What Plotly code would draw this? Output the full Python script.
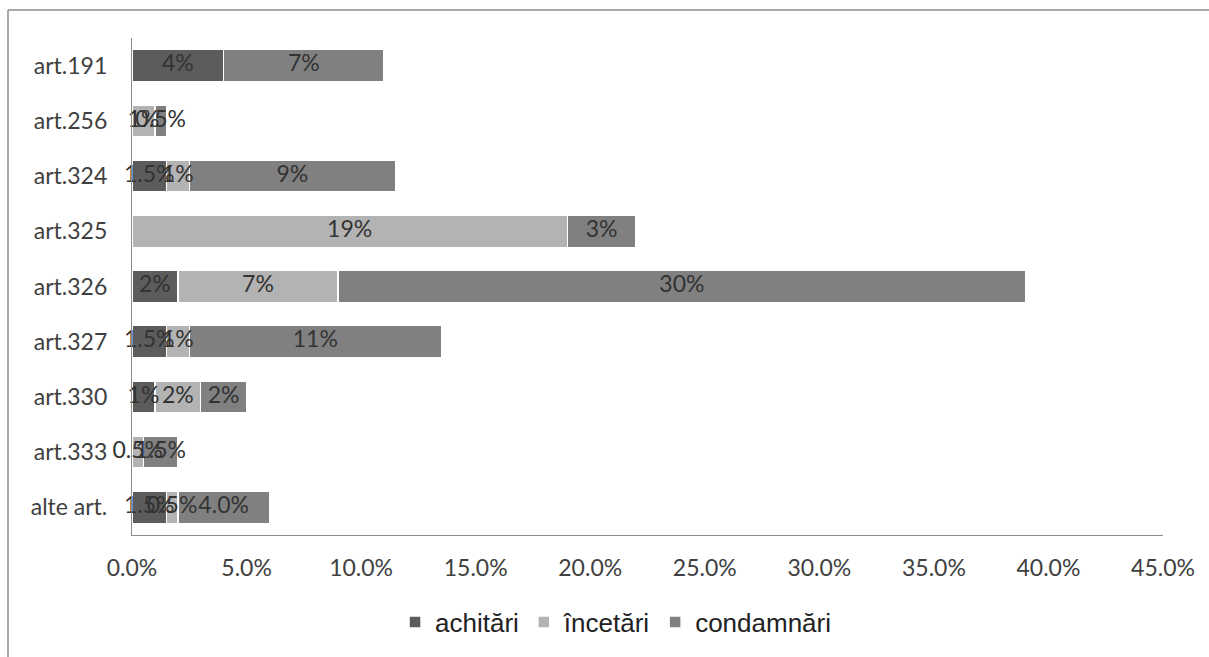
import plotly.graph_objects as go

categories = ["art.191", "art.256", "art.324", "art.325", "art.326", "art.327", "art.330", "art.333", "alte art."]
series_names = ["achitări", "încetări", "condamnări"]

achitari = [4, 0, 1.5, 0, 2, 1.5, 1, 0, 1.5]
incetari = [0, 1, 1, 19, 7, 1, 2, 0.5, 0.5]
condamnari = [7, 0.5, 9, 3, 30, 11, 2, 1.5, 4.0]

achitari_text = ["4%", "", "1.5%", "", "2%", "1.5%", "1%", "", "1.5%"]
incetari_text = ["", "1%", "1%", "19%", "7%", "1%", "2%", "0.5%", "0.5%"]
condamnari_text = ["7%", "0.5%", "9%", "3%", "30%", "11%", "2%", "1.5%", "4.0%"]

tick_vals = [0, 5, 10, 15, 20, 25, 30, 35, 40, 45]
tick_text = ["0.0%", "5.0%", "10.0%", "15.0%", "20.0%", "25.0%", "30.0%", "35.0%", "40.0%", "45.0%"]

colors = ["#5c5c5c", "#b3b3b3", "#808080"]
FONT = "Lato, Open Sans, sans-serif"

series = [achitari, incetari, condamnari]
texts = [achitari_text, incetari_text, condamnari_text]

fig = go.Figure()
for name, vals, col in zip(series_names, series, colors):
    fig.add_trace(go.Bar(
        y=categories, x=vals, name=name, orientation="h",
        marker=dict(color=col, line=dict(color="#ffffff", width=1.5)),
    ))

# segment labels drawn above all bars, placed at segment midpoints
base = [0.0] * len(categories)
for vals, txt in zip(series, texts):
    mids = [b + v / 2 for b, v in zip(base, vals)]
    fig.add_trace(go.Scatter(
        y=categories, x=mids, mode="text", text=txt, textposition="middle center",
        textfont=dict(family=FONT, size=23, color="#333333"),
        showlegend=False, hoverinfo="skip", cliponaxis=False,
    ))
    base = [b + v for b, v in zip(base, vals)]

fig.update_layout(
    barmode="stack",
    bargap=0.42,
    width=1209, height=657,
    margin=dict(l=132, r=46, t=38, b=122),
    paper_bgcolor="white", plot_bgcolor="white",
    showlegend=True,
    legend=dict(orientation="h", x=0.469, xanchor="center", y=-0.175, yanchor="middle",
                font=dict(family="Liberation Sans, Arial, sans-serif", size=26, color="#222222"),
                itemwidth=30, traceorder="normal"),
    xaxis=dict(range=[0, 45], tickvals=tick_vals, ticktext=tick_text,
               showgrid=False, zeroline=False, showline=True, linecolor="#8c8c8c", linewidth=1.2,
               ticks="", ticklabelstandoff=12,
               tickfont=dict(family=FONT, size=23, color="#404040")),
    yaxis=dict(autorange="reversed", showgrid=False, zeroline=False, showline=True,
               linecolor="#8c8c8c", linewidth=1.2, ticks="", ticklabelstandoff=19,
               tickfont=dict(family=FONT, size=23, color="#404040")),
    shapes=[
        dict(type="line", xref="paper", yref="paper", layer="above",
             x0=-124/1031, x1=-124/1031, y0=(535-10)/497, y1=-(657-535)/497,
             line=dict(color="#8c8c8c", width=1.5)),
        dict(type="line", xref="paper", yref="paper", layer="above",
             x0=-124/1031, x1=(1209-132)/1031, y0=(535-10)/497, y1=(535-10)/497,
             line=dict(color="#8c8c8c", width=1.5)),
    ],
)

fig.write_html("out.html")
